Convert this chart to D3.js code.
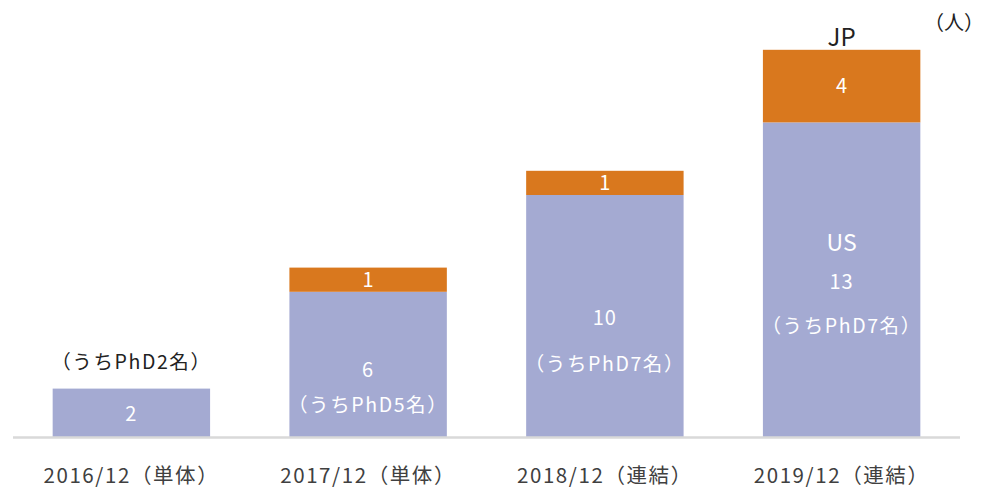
<!DOCTYPE html>
<html><head><meta charset="utf-8">
<script src="https://cdn.jsdelivr.net/npm/d3@7"></script>
<style>
html,body{margin:0;padding:0;background:#fff;}
text{font-family:"Noto Sans CJK JP","Lato",sans-serif;}
</style></head>
<body><svg id="c" width="986" height="490"></svg>
<script>
const categories = ["2016/12（単体）","2017/12（単体）","2018/12（連結）","2019/12（連結）"];
const usValues = [2, 6, 10, 13];
const jpValues = [0, 1, 1, 3];
const usLabels = ["2", "6", "10", "13"];
const jpLabels = ["", "1", "1", "4"];
const phdLabels = ["（うちPhD2名）","（うちPhD5名）","（うちPhD7名）","（うちPhD7名）"];
const unitLabel = "（人）";
const seriesNames = ["US", "JP"];

const svg = d3.select("#c");
const x = d3.scaleBand().domain(categories).range([13, 960]).paddingInner(0.335).paddingOuter(0.1675);
const y = d3.scaleLinear().domain([0, 16]).range([437, 49.8]);
const usColor = "#A4AAD2", jpColor = "#D9781E";

const data = categories.map((c, i) => ({c, us: usValues[i], jp: jpValues[i], i}));

svg.selectAll(".us").data(data).enter().append("rect")
  .attr("x", d => x(d.c)).attr("width", x.bandwidth())
  .attr("y", d => y(d.us)).attr("height", d => y(0) - y(d.us))
  .attr("fill", usColor);
svg.selectAll(".jp").data(data.filter(d => d.jp > 0)).enter().append("rect")
  .attr("x", d => x(d.c)).attr("width", x.bandwidth())
  .attr("y", d => y(d.us + d.jp)).attr("height", d => y(d.us) - y(d.us + d.jp))
  .attr("fill", jpColor);

const axis = svg.append("g").attr("transform", `translate(0,${y(0)})`)
  .call(d3.axisBottom(x).tickSize(0).tickPadding(31));
axis.select(".domain").attr("stroke", "#d9d9d9").attr("stroke-width", 2.5)
  .attr("d", "M13,0.5H960");
axis.selectAll("text").attr("font-size", 20.5).attr("fill", "#404040")
  .attr("letter-spacing", "1.6px")
  .attr("font-family", "'Noto Sans CJK JP',sans-serif");

const cx = d => x(d.c) + x.bandwidth() / 2;

svg.selectAll(".jpl").data(data.filter(d => d.jp > 0)).enter().append("text")
  .attr("x", cx).attr("y", d => (y(d.us) + y(d.us + d.jp)) / 2)
  .attr("dy", "0.35em").attr("text-anchor", "middle")
  .attr("font-size", 20).attr("fill", "#fff").text(d => jpLabels[d.i]);

const usValY = [y(0.95), y(2.75), y(4.9), y(6.4)];
svg.selectAll(".usl").data(data).enter().append("text")
  .attr("x", cx).attr("y", d => usValY[d.i]).attr("dy", "0.35em")
  .attr("text-anchor", "middle").attr("font-size", 20).attr("fill", "#fff")
  .attr("letter-spacing", "1px")
  .text(d => usLabels[d.i]);

const phdY = [y(3.1), y(1.33), y(3.0), y(4.6)];
svg.selectAll(".phd").data(data).enter().append("text")
  .attr("x", cx).attr("y", d => phdY[d.i]).attr("dy", "0.35em")
  .attr("text-anchor", "middle").attr("font-size", 19.5)
  .attr("letter-spacing", "1.6px")
  .attr("fill", d => d.i === 0 ? "#222" : "#fff")
  .text(d => phdLabels[d.i]);

const last = data[data.length - 1];
svg.append("text").attr("x", cx(last)).attr("y", y(8)).attr("dy", "0.35em")
  .attr("text-anchor", "middle").attr("font-size", 23).attr("fill", "#fff").text(seriesNames[0]);
svg.append("text").attr("x", cx(last)).attr("y", y(last.us + last.jp) - 12)
  .attr("text-anchor", "middle").attr("font-size", 24).attr("fill", "#222")
  .attr("dy", "0.35em").text(seriesNames[1]);

svg.append("text").attr("x", 984).attr("y", 23).attr("dy", "0.35em")
  .attr("text-anchor", "end").attr("font-size", 20).attr("fill", "#222").text(unitLabel);
</script></body></html>
